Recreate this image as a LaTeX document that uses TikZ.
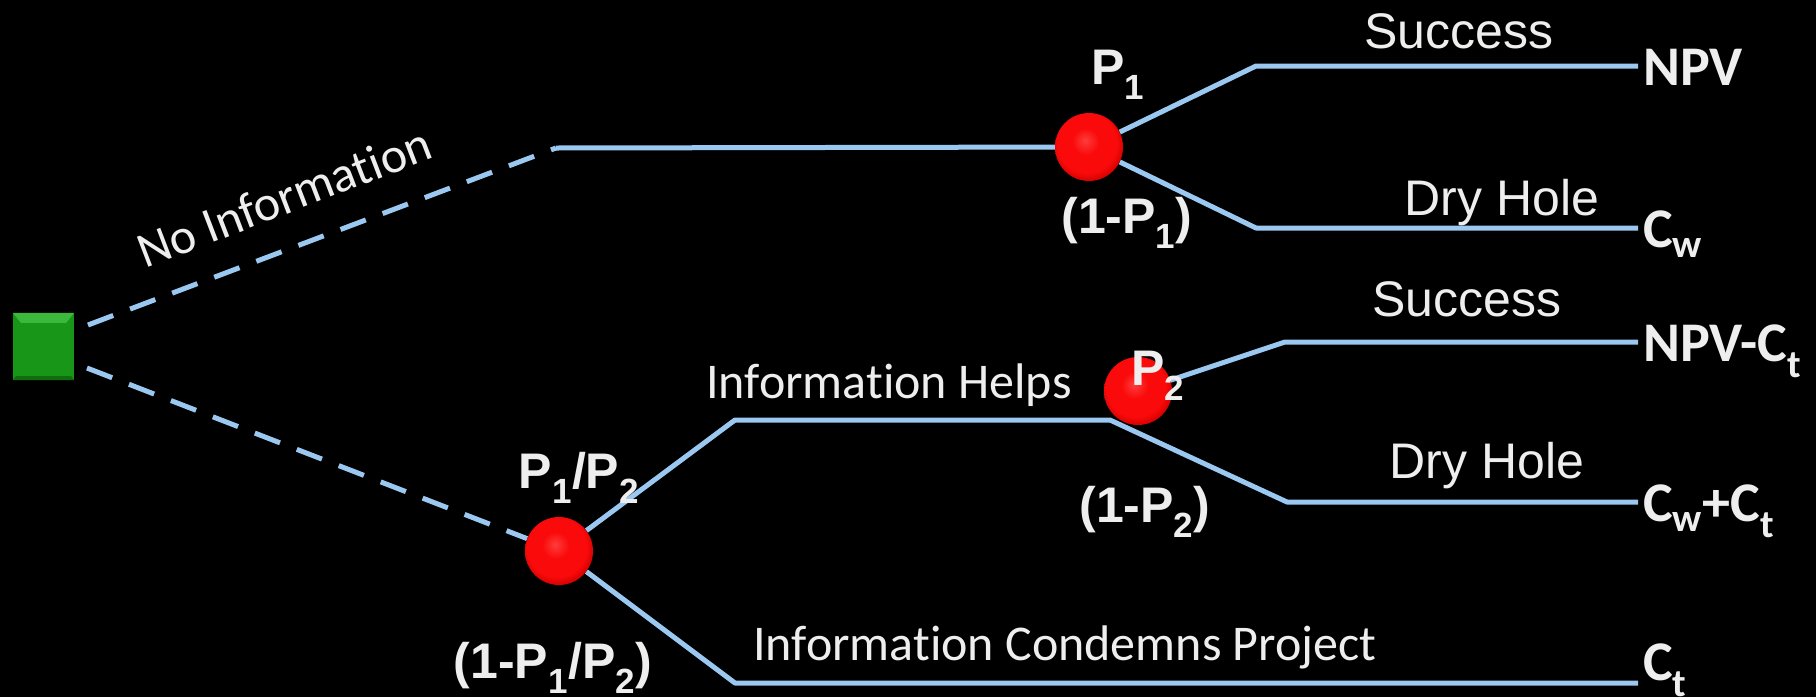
\documentclass[tikz,border=0pt]{standalone}
\usepackage{fontspec}
\setmainfont{Carlito}[Ligatures=CommonOff]
\newfontfamily\arialf{Liberation Sans}
\usetikzlibrary{calc}
\definecolor{linec}{RGB}{155,200,240}
\definecolor{txtc}{RGB}{238,238,238}
\definecolor{sqgreen}{RGB}{24,150,24}
\definecolor{sqlight}{RGB}{60,185,60}
\definecolor{sqdark}{RGB}{14,110,14}
\definecolor{redhi}{RGB}{255,60,60}
\definecolor{redmain}{RGB}{250,10,10}
\definecolor{reddark}{RGB}{205,0,0}
\pgfdeclareradialshading{redball}{\pgfpoint{-3bp}{5bp}}{color(0bp)=(redhi); color(10bp)=(redmain); color(22bp)=(redmain); color(28bp)=(reddark); color(50bp)=(reddark)}
\pgfdeclarelayer{bg}
\pgfsetlayers{bg,main}
\begin{document}
\begin{tikzpicture}[x=1pt,y=-1pt,
  conn/.style={line width=5pt, draw=linec, line join=round},
  dconn/.style={conn, dash pattern=on 27pt off 18pt},
  chance/.style={circle, minimum size=68pt, inner sep=0pt, shading=redball},
  decbox/.style={rectangle, minimum width=61pt, minimum height=67pt, inner sep=0pt, fill=sqgreen},
  calib/.style={text=txtc, inner sep=0pt, font=\fontsize{50}{60}\selectfont},
  arl/.style={text=txtc, inner sep=0pt, font=\arialf\fontsize{50}{60}\selectfont},
  arlb/.style={text=txtc, inner sep=0pt, font=\arialf\bfseries\fontsize{50}{60}\selectfont},
  outc/.style={text=txtc, inner sep=0pt, anchor=base west, font=\bfseries\fontsize{56}{66}\selectfont}]
\begin{pgfonlayer}{bg}
\fill[black] (0,0) rectangle (1816,697);
\end{pgfonlayer}
\useasboundingbox (0,0) rectangle (1816,697);

% decision node
\node[decbox] (S) at (43.5,346.5) {};
\fill[sqlight] (S.north west) -- (S.north east) -- ($(S.north east)+(-8,10)$) -- ($(S.north west)+(8,10)$) -- cycle;
\fill[sqdark] (S.south west) -- (S.south east) -- ($(S.south east)+(-3,-4)$) -- ($(S.south west)+(3,-4)$) -- cycle;

% chance nodes
\node[chance] (A) at (1089,147) {};
\node[chance] (B) at (1138,391) {};
\node[chance] (C) at (559,551) {};

% coordinates
\coordinate (u0) at (88,325);
\coordinate (u1) at (556,148);
\coordinate (l0) at (87,368);
\coordinate (a1) at (1256,66);
\coordinate (a1e) at (1638,66);
\coordinate (a2) at (1256,228);
\coordinate (a2e) at (1638,228);
\coordinate (c1) at (735,420);
\coordinate (c2) at (1110,420);
\coordinate (c3) at (1287,502);
\coordinate (c3e) at (1638,502);
\coordinate (b1) at (1285,342);
\coordinate (b1e) at (1638,342);
\coordinate (c4) at (735,683);
\coordinate (c4e) at (1638,683);

\begin{pgfonlayer}{bg}
\draw[dconn] (u0) -- (u1);
\draw[conn] (u1) -- (A);
\draw[dconn] (l0) -- (C);
\draw[conn] (A) -- (a1) -- (a1e);
\draw[conn] (A) -- (a2) -- (a2e);
\draw[conn] (C) -- (c1) -- (c2) -- (c3) -- (c3e);
\draw[conn] (B) -- (b1) -- (b1e);
\draw[conn] (C) -- (c4) -- (c4e);
\end{pgfonlayer}

% branch labels
\node[calib, rotate=21] (tNo) at (284,197) {No Information};
\node[calib, anchor=base] (tHelp) at (889,398) {Information Helps};
\node[calib, anchor=base] (tCond) at (1065,660) {Information Condemns Project};
\node[arl, anchor=base] (tS1) at (1459,48) {Success};
\node[arl, anchor=base] (tD1) at (1502,215) {Dry Hole};
\node[arl, anchor=base] (tS2) at (1467,316) {Success};
\node[arl, anchor=base] (tD2) at (1487,478) {Dry Hole};

% probabilities
\node[arlb, anchor=base] (pA1) at (1118,84) {P\textsubscript{1}};
\node[arlb, anchor=base] (pA2) at (1127,233) {(1-P\textsubscript{1})};
\node[arlb, anchor=base] (pB1) at (1158,385) {P\textsubscript{2}};
\node[arlb, anchor=base] (pB2) at (1145,522) {(1-P\textsubscript{2})};
\node[arlb, anchor=base] (pC1) at (579,488) {P\textsubscript{1}/P\textsubscript{2}};
\node[arlb, anchor=base] (pC2) at (553,678) {(1-P\textsubscript{1}/P\textsubscript{2})};

% outcomes
\node[outc] (o1) at (1643,85) {NPV};
\node[outc] (o2) at (1643,247) {C\textsubscript{w}};
\node[outc] (o3) at (1643,361) {NPV-C\textsubscript{t}};
\node[outc] (o4) at (1643,521) {C\textsubscript{w}+C\textsubscript{t}};
\node[outc] (o5) at (1643,680) {C\textsubscript{t}};
\end{tikzpicture}
\end{document}
